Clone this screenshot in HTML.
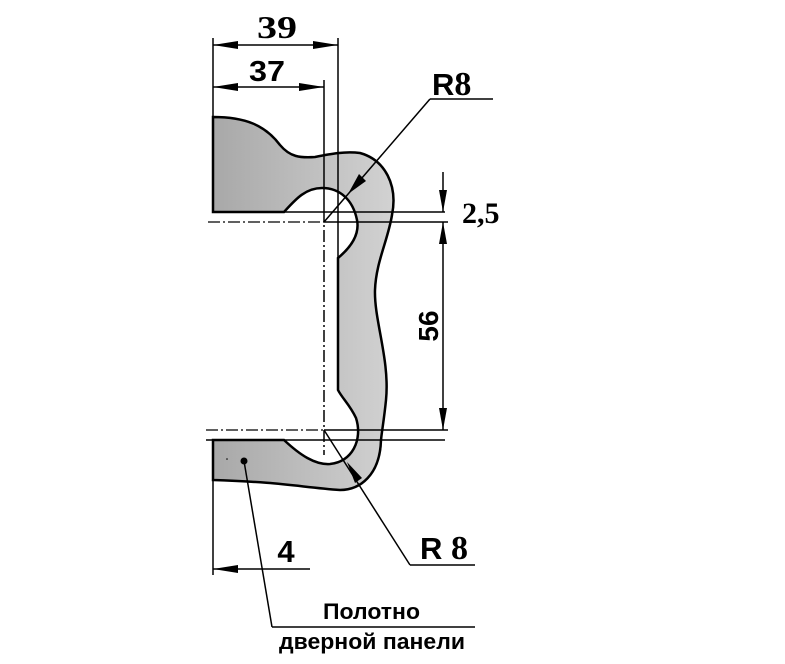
<!DOCTYPE html>
<html><head><meta charset="utf-8"><style>
html,body{margin:0;padding:0;background:#fff;width:785px;height:664px;overflow:hidden}
text{font-weight:bold}
</style></head><body>
<svg width="785" height="664" viewBox="0 0 785 664" xmlns="http://www.w3.org/2000/svg">
<defs>
<linearGradient id="g" x1="0" x2="1" y1="0" y2="0">
<stop offset="0" stop-color="#a8a8a8"/><stop offset="0.5" stop-color="#bdbdbd"/><stop offset="1" stop-color="#d2d2d2"/>
</linearGradient>
</defs>
<path d="M213,117 C245,117 265,125 280,145 C290,157 300,158 315,157 C330,154 345,151 360,153 C385,160 398,185 392,215 C388,240 376,262 375,290 C374,320 390,360 386,400 C384,420 382,430 381,440 C380,475 360,490 340,490 C300,487 280,482 213,480 L213,440 L284,440 C300,455 315,465 330,464 C352,462 363,440 356,418 C350,405 342,398 338,390 L338,258 C350,248 360,235 357,220 C353,200 340,188 322,188 C305,188 295,200 284,212 L213,212 Z" fill="url(#g)" stroke="#000" stroke-width="2.5"/>
<line x1="213" y1="38" x2="213" y2="117" stroke="#000" stroke-width="1.5"/>
<line x1="213" y1="480" x2="213" y2="575" stroke="#000" stroke-width="1.5"/>
<line x1="338" y1="38" x2="338" y2="258" stroke="#000" stroke-width="1.5"/>
<line x1="324" y1="80" x2="324" y2="210" stroke="#000" stroke-width="1.5"/>
<line x1="324" y1="210" x2="324" y2="455" stroke="#000" stroke-width="1.5" stroke-dasharray="12,3,2,3"/>
<line x1="213" y1="212" x2="445" y2="212" stroke="#000" stroke-width="1.5"/>
<line x1="208" y1="222" x2="324" y2="222" stroke="#000" stroke-width="1.2" stroke-dasharray="12,3,2,3"/>
<line x1="324" y1="222" x2="448" y2="222" stroke="#000" stroke-width="1.5"/>
<line x1="206" y1="430" x2="324" y2="430" stroke="#000" stroke-width="1.2" stroke-dasharray="12,3,2,3"/>
<line x1="324" y1="430" x2="448" y2="430" stroke="#000" stroke-width="1.5"/>
<line x1="206" y1="440" x2="445" y2="440" stroke="#000" stroke-width="1.5"/>
<line x1="213" y1="45" x2="338" y2="45" stroke="#000" stroke-width="1.5"/>
<polygon points="213,45 238,41 238,49"/><polygon points="338,45 313,41 313,49"/>
<text x="257" y="38" font-family="Liberation Serif" font-size="32" textLength="40" lengthAdjust="spacingAndGlyphs">39</text>
<line x1="213" y1="87" x2="324" y2="87" stroke="#000" stroke-width="1.5"/>
<polygon points="213,87 238,83 238,91"/><polygon points="324,87 299,83 299,91"/>
<text x="249" y="81" font-family="Liberation Sans" font-size="29" textLength="36" lengthAdjust="spacingAndGlyphs">37</text>
<line x1="430" y1="99" x2="493" y2="99" stroke="#000" stroke-width="1.5"/>
<line x1="430" y1="99" x2="324" y2="222" stroke="#000" stroke-width="1.5"/>
<polygon points="348,194 359,174 366,181"/>
<text x="432" y="95" font-family="Liberation Sans" font-size="31">R<tspan font-family="Liberation Serif" font-size="34">8</tspan></text>
<line x1="443" y1="172" x2="443" y2="212" stroke="#000" stroke-width="1.5"/>
<polygon points="443,212 439,190 447,190"/>
<line x1="443" y1="222" x2="443" y2="430" stroke="#000" stroke-width="1.5"/>
<polygon points="443,222 439,244 447,244"/>
<polygon points="443,430 439,408 447,408"/>
<text x="462" y="223" font-family="Liberation Serif" font-size="30">2,5</text>
<text transform="translate(438,326) rotate(-90)" font-family="Liberation Sans" font-size="28" text-anchor="middle">56</text>
<line x1="324" y1="430" x2="410" y2="565" stroke="#000" stroke-width="1.5"/>
<line x1="410" y1="565" x2="475" y2="565" stroke="#000" stroke-width="1.5"/>
<polygon points="347,462 362,478 355,483"/>
<text x="420" y="559" font-family="Liberation Sans" font-size="31">R <tspan font-family="Liberation Serif" font-size="34">8</tspan></text>
<line x1="213" y1="569" x2="310" y2="569" stroke="#000" stroke-width="1.5"/>
<polygon points="213,569 238,565 238,573"/>
<text x="286" y="562" font-family="Liberation Sans" font-size="31" text-anchor="middle">4</text>
<circle cx="244" cy="461" r="3.5"/>
<circle cx="227" cy="459" r="0.8"/>
<line x1="244" y1="461" x2="272" y2="627" stroke="#000" stroke-width="1.5"/>
<line x1="272" y1="627" x2="475" y2="627" stroke="#000" stroke-width="1.5"/>
<text x="323" y="619" font-family="Liberation Sans" font-size="22" textLength="97" lengthAdjust="spacingAndGlyphs">Полотно</text>
<text x="279" y="649" font-family="Liberation Sans" font-size="22" textLength="186" lengthAdjust="spacingAndGlyphs">дверной панели</text>
</svg>
</body></html>
